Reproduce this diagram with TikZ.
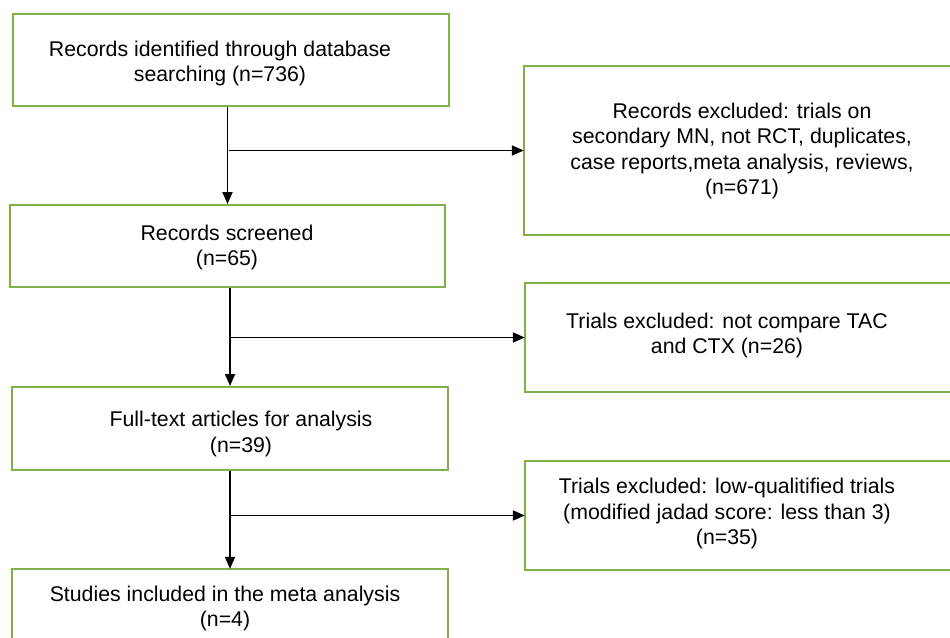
\documentclass[tikz,border=0pt]{standalone}
\usepackage{fontspec}
\setmainfont{Liberation Sans}
\usetikzlibrary{arrows.meta}
\definecolor{boxgreen}{RGB}{128,176,72}
\begin{document}
\begin{tikzpicture}[x=1pt,y=-1pt,
  box/.style={draw=boxgreen,line width=2pt,rectangle,inner sep=0pt},
  openbox/.style={rectangle,inner sep=0pt},
  edge/.style={draw=boxgreen,line width=2pt},
  txt/.style={align=center,inner sep=0pt,font=\fontsize{21.3}{25.6}\selectfont},
  arr/.style={line width=1.8pt,-{Triangle[length=12pt,width=10pt]}},
  branch/.style={line width=1.6pt,-{Triangle[length=12pt,width=10pt]}}]
\useasboundingbox (0,0) rectangle (950,637);
\clip (0,0) rectangle (950,637);
\fill[white] (0,0) rectangle (950,637);
% left column boxes
\node[box,minimum width=436pt,minimum height=92pt] (b1) at (231,60) {};
\node[box,minimum width=435pt,minimum height=82pt] (b2) at (227.5,246) {};
\node[box,minimum width=436pt,minimum height=83pt] (b3) at (230,428.5) {};
\node[openbox,minimum width=436pt,minimum height=78pt] (b4) at (230,608) {};
\draw[edge] (b4.south west) -- (b4.north west) -- (b4.north east) -- (b4.south east);
% right column boxes (cut off by the right edge)
\node[openbox,minimum width=496pt,minimum height=169pt] (r1) at (772,150.5) {};
\node[openbox,minimum width=495pt,minimum height=109pt] (r2) at (772.5,337.5) {};
\node[openbox,minimum width=495pt,minimum height=109pt] (r3) at (772.5,515.5) {};
\draw[edge] (r1.north east) -- (r1.north west) -- (r1.south west) -- (r1.south east);
\draw[edge] (r2.north east) -- (r2.north west) -- (r2.south west) -- (r2.south east);
\draw[edge] (r3.north east) -- (r3.north west) -- (r3.south west) -- (r3.south east);
% texts
\node[txt] (t1) at (220,63.5) {Records identified through database\\searching (n=736)};
\node[txt] (t2) at (227,247.5) {Records screened\\(n=65)};
\node[txt] (t3) at (241,434) {Full-text articles for analysis\\(n=39)};
\node[txt] (t4) at (225,608.5) {Studies included in the meta analysis\\(n=4)};
\node[txt] (tr1) at (742,151) {Records excluded: trials on\\secondary MN, not RCT, duplicates,\\case reports,meta analysis, reviews,\\(n=671)};
\node[txt] (tr2) at (727,335.5) {Trials excluded: not compare TAC\\and CTX (n=26)};
\node[txt] (tr3) at (727,513.5) {Trials excluded: low-qualitified trials\\(modified jadad score: less than 3)\\(n=35)};
% vertical arrows
\draw[arr] (b1.south -| b2.north) -- (b2.north);
\draw[arr] (b2.south -| b3.north) -- (b3.north);
\draw[arr] (b3.south -| b4.north) -- (b4.north);
% branches
\draw[branch] ([xshift=1pt]r1.west -| b2.north) -- (r1.west);
\draw[branch] ([xshift=1pt]r2.west -| b3.north) -- (r2.west);
\draw[branch] ([xshift=1pt]r3.west -| b4.north) -- (r3.west);
\end{tikzpicture}
\end{document}
